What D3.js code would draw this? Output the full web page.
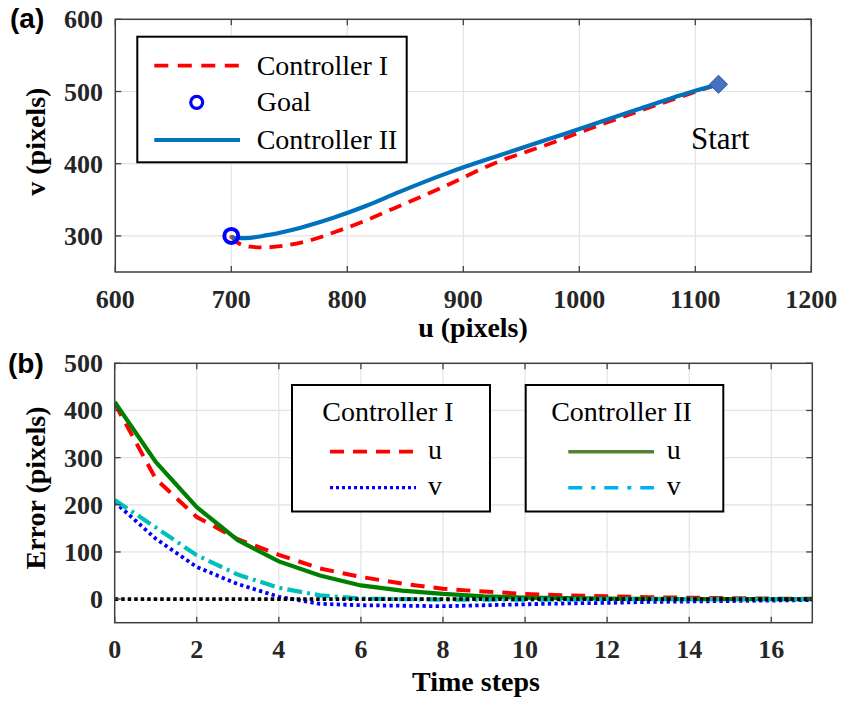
<!DOCTYPE html>
<html>
<head>
<meta charset="utf-8">
<script src="https://cdn.jsdelivr.net/npm/d3@7"></script>
<style>
  html, body { margin: 0; padding: 0; background: #fff; }
  svg { display: block; }
  .tick-label { font-family: "Liberation Serif", "Times New Roman", serif; font-weight: bold; font-size: 26px; fill: #262626; }
  .axis-title { font-family: "Liberation Serif", "Times New Roman", serif; font-weight: bold; font-size: 28px; fill: #000; }
  .legend-text { font-family: "Liberation Serif", "Times New Roman", serif; font-size: 28px; fill: #000; }
  .panel-tag { font-family: "Liberation Sans", Arial, sans-serif; font-weight: bold; font-size: 28px; fill: #000; }
</style>
</head>
<body>
<svg id="chart" width="842" height="702"></svg>
<script>
// ---------- Panel (a): image-plane trajectories (start -> goal) ----------
const trajU_ctrl1 = [1120, 1100, 1050, 1000, 975, 926, 883, 840, 817, 794, 768, 748, 727, 716, 705, 700];
const trajV_ctrl1 = [510, 499.5, 472, 443, 428, 400, 368, 338, 322, 308, 294, 287, 284, 285, 291, 300];
const trajU_ctrl2 = [1120, 1100, 1050, 1000, 975, 932, 888, 845, 817, 788, 759, 731, 712, 703, 700];
const trajV_ctrl2 = [510, 501, 475, 448, 435, 412, 388, 361, 342, 325, 311, 301, 297, 297, 299];
const goalPoint = [700, 300];
const startPoint = [1120, 510];
const uTicks = [600, 700, 800, 900, 1000, 1100, 1200];
const vTicks = [300, 400, 500, 600];

// ---------- Panel (b): error over time ----------
const timeSteps = [0, 1, 2, 3, 4, 5, 6, 7, 8, 9, 10, 11, 12, 13, 14, 15, 16, 17];
const errU_ctrl1 = [415, 255, 174, 127, 94, 65, 47, 33, 22, 16, 11, 8, 6, 4, 3, 2, 1, 1];
const errV_ctrl1 = [206, 128, 68, 32, 5, -10, -13, -14, -15, -13, -11, -9, -8, -6, -5, -4, -3, -2];
const errU_ctrl2 = [418, 291, 195, 125, 80, 50, 29, 18, 11, 6, 3, 2, 1, 0.5, 0, 0, 0, 0];
const errV_ctrl2 = [210, 152, 93, 52, 24, 8, 1, 0, -1, -1, -1, -1, 0, 0, 0, 0, 0, 0];
const tTicks = [0, 2, 4, 6, 8, 10, 12, 14, 16];
const errTicks = [0, 100, 200, 300, 400, 500];

const svg = d3.select("#chart");
const boxColor = "#404040";
const gridColor = "#e3e3e3";
const tickLen = 6;

function drawGrid(g, x, y, xt, yt) {
  const [x0, x1] = x.range();
  const [y0, y1] = y.range(); // y0 bottom, y1 top
  g.append("g").selectAll("line").data(xt.filter(d => x(d) > x0 + 1 && x(d) < x1 - 1)).join("line")
    .attr("x1", d => x(d)).attr("x2", d => x(d)).attr("y1", y0).attr("y2", y1)
    .attr("stroke", gridColor).attr("stroke-width", 1.2);
  g.append("g").selectAll("line").data(yt.filter(d => y(d) < y0 - 1 && y(d) > y1 + 1)).join("line")
    .attr("y1", d => y(d)).attr("y2", d => y(d)).attr("x1", x0).attr("x2", x1)
    .attr("stroke", gridColor).attr("stroke-width", 1.2);
}

function drawBox(g, x, y, xt, yt) {
  const [x0, x1] = x.range();
  const [y0, y1] = y.range();
  g.append("rect").attr("x", x0).attr("y", y1).attr("width", x1 - x0).attr("height", y0 - y1)
    .attr("fill", "none").attr("stroke", boxColor).attr("stroke-width", 1.5);
  const tk = g.append("g").attr("stroke", boxColor).attr("stroke-width", 1.3);
  xt.forEach(d => {
    tk.append("line").attr("x1", x(d)).attr("x2", x(d)).attr("y1", y0).attr("y2", y0 - tickLen);
    tk.append("line").attr("x1", x(d)).attr("x2", x(d)).attr("y1", y1).attr("y2", y1 + tickLen);
  });
  yt.forEach(d => {
    tk.append("line").attr("y1", y(d)).attr("y2", y(d)).attr("x1", x0).attr("x2", x0 + tickLen);
    tk.append("line").attr("y1", y(d)).attr("y2", y(d)).attr("x1", x1).attr("x2", x1 - tickLen);
  });
}

function tickLabels(g, x, y, xt, yt, xBase, yRight) {
  g.append("g").selectAll("text").data(xt).join("text")
    .attr("class", "tick-label").attr("x", d => x(d)).attr("y", xBase)
    .attr("text-anchor", "middle").text(d => d);
  g.append("g").selectAll("text").data(yt).join("text")
    .attr("class", "tick-label").attr("x", yRight).attr("y", d => y(d) + 9)
    .attr("text-anchor", "end").text(d => d);
}

// ===== Panel (a) =====
{
  const g = svg.append("g");
  const x = d3.scaleLinear().domain([600, 1200]).range([115.3, 811.3]);
  const y = d3.scaleLinear().domain([250, 600]).range([272, 19.3]);
  drawGrid(g, x, y, uTicks, vTicks);

  const line = d3.line().x(d => x(d[0])).y(d => y(d[1])).curve(d3.curveMonotoneX);
  // order by increasing u for the monotone interpolator
  const path1 = trajU_ctrl1.map((u, i) => [u, trajV_ctrl1[i]]).reverse();
  const path2 = trajU_ctrl2.map((u, i) => [u, trajV_ctrl2[i]]).reverse();

  g.append("path").attr("d", line(path1)).attr("fill", "none")
    .attr("stroke", "#ff0000").attr("stroke-width", 3.8).attr("stroke-dasharray", "13,8");
  g.append("path").attr("d", line(path2)).attr("fill", "none")
    .attr("stroke", "#0072bd").attr("stroke-width", 4.2);

  // goal marker
  g.append("circle").attr("cx", x(goalPoint[0])).attr("cy", y(goalPoint[1])).attr("r", 7)
    .attr("fill", "none").attr("stroke", "#0000ff").attr("stroke-width", 4);
  g.append("circle").attr("cx", x(goalPoint[0])).attr("cy", y(goalPoint[1]) + 1).attr("r", 2)
    .attr("fill", "#c04040");

  // start marker
  const sx = x(startPoint[0]), sy = y(startPoint[1]), s = 9;
  g.append("path").attr("d", `M${sx},${sy - s}L${sx + s},${sy}L${sx},${sy + s}L${sx - s},${sy}Z`)
    .attr("fill", "#4472c4").attr("stroke", "#2f528f").attr("stroke-width", 1);
  g.append("text").attr("class", "legend-text").style("font-size", "31px")
    .attr("x", 691).attr("y", 149).text("Start");

  drawBox(g, x, y, uTicks, vTicks);
  tickLabels(g, x, y, uTicks, vTicks, 308, 103);

  g.append("text").attr("class", "axis-title").attr("x", 473).attr("y", 337)
    .attr("text-anchor", "middle").text("u (pixels)");
  g.append("text").attr("class", "axis-title")
    .attr("transform", "translate(45,141.7) rotate(-90)")
    .attr("text-anchor", "middle").text("v (pixels)");
  g.append("text").attr("class", "panel-tag").attr("x", 10).attr("y", 28).text("(a)");

  // legend
  const lg = g.append("g");
  lg.append("rect").attr("x", 137.3).attr("y", 36.7).attr("width", 269.4).attr("height", 125.6)
    .attr("fill", "#fff").attr("stroke", "#000").attr("stroke-width", 2);
  const rows = [
    { label: "Controller I", y: 65.7, kind: "dash" },
    { label: "Goal", y: 102.3, kind: "circle" },
    { label: "Controller II", y: 140, kind: "solid" }
  ];
  rows.forEach(r => {
    if (r.kind === "dash") {
      lg.append("line").attr("x1", 154.3).attr("x2", 240).attr("y1", r.y).attr("y2", r.y)
        .attr("stroke", "#ff0000").attr("stroke-width", 3.8).attr("stroke-dasharray", "14,9.5");
    } else if (r.kind === "solid") {
      lg.append("line").attr("x1", 154.3).attr("x2", 240).attr("y1", r.y).attr("y2", r.y)
        .attr("stroke", "#0072bd").attr("stroke-width", 4.2);
    } else {
      lg.append("circle").attr("cx", 196.7).attr("cy", r.y).attr("r", 6)
        .attr("fill", "none").attr("stroke", "#0000ff").attr("stroke-width", 3.2);
    }
    lg.append("text").attr("class", "legend-text").attr("x", 256.7).attr("y", r.y + 9).text(r.label);
  });
}

// ===== Panel (b) =====
{
  const g = svg.append("g");
  const x = d3.scaleLinear().domain([0, 17]).range([114.7, 812.3]);
  const y = d3.scaleLinear().domain([-50, 500]).range([622.7, 363.3]);
  drawGrid(g, x, y, tTicks, errTicks);

  const line = d3.line().x((d, i) => x(timeSteps[i])).y(d => y(d));
  g.append("clipPath").attr("id", "clipB").append("rect")
    .attr("x", 114.7).attr("y", 363.3).attr("width", 697.6).attr("height", 259.4);
  const plot = g.append("g").attr("clip-path", "url(#clipB)");

  plot.append("path").attr("d", line(errU_ctrl1)).attr("fill", "none")
    .attr("stroke", "#ff0000").attr("stroke-width", 4).attr("stroke-dasharray", "14,9");
  plot.append("path").attr("d", line(errU_ctrl2)).attr("fill", "none")
    .attr("stroke", "#008000").attr("stroke-width", 4.2);
  plot.append("path").attr("d", line(errV_ctrl1)).attr("fill", "none")
    .attr("stroke", "#0000ff").attr("stroke-width", 3.8).attr("stroke-dasharray", "3.3,3.3");
  plot.append("path").attr("d", line(errV_ctrl2)).attr("fill", "none")
    .attr("stroke", "#00bfbf").attr("stroke-width", 4.2).attr("stroke-dasharray", "15,5,3,5");
  // zero reference
  plot.append("line").attr("x1", x(0)).attr("x2", x(17)).attr("y1", y(0)).attr("y2", y(0))
    .attr("stroke", "#000").attr("stroke-width", 3.8).attr("stroke-dasharray", "3.5,3");

  drawBox(g, x, y, tTicks, errTicks);
  tickLabels(g, x, y, tTicks, errTicks, 658, 103);

  g.append("text").attr("class", "axis-title").attr("x", 476).attr("y", 691)
    .attr("text-anchor", "middle").text("Time steps");
  g.append("text").attr("class", "axis-title")
    .attr("transform", "translate(45,488) rotate(-90)")
    .attr("text-anchor", "middle").text("Error (pixels)");
  g.append("text").attr("class", "panel-tag").attr("x", 8).attr("y", 373).text("(b)");

  // two legend boxes
  const boxes = [
    { title: "Controller I", x0: 292, x1: 490, lineX: [330, 416], textX: 428,
      rows: [{ label: "u", color: "#ff0000", dash: "14,9", w: 3.8 },
             { label: "v", color: "#0000ff", dash: "3,3", w: 3.2 }] },
    { title: "Controller II", x0: 525.7, x1: 723.3, lineX: [568.3, 654], textX: 666.7,
      rows: [{ label: "u", color: "#548235", dash: null, w: 3.5 },
             { label: "v", color: "#00b0f0", dash: "14,9,4,9", w: 3.5 }] }
  ];
  const rowY = [451.7, 487.7];
  boxes.forEach(b => {
    const lg = g.append("g");
    lg.append("rect").attr("x", b.x0).attr("y", 385).attr("width", b.x1 - b.x0).attr("height", 126.5)
      .attr("fill", "#fff").attr("stroke", "#000").attr("stroke-width", 2);
    lg.append("text").attr("class", "legend-text").attr("x", (b.x0 + b.x1) / 2 - 3).attr("y", 420.5)
      .attr("text-anchor", "middle").text(b.title);
    b.rows.forEach((r, i) => {
      const ln = lg.append("line").attr("x1", b.lineX[0]).attr("x2", b.lineX[1])
        .attr("y1", rowY[i]).attr("y2", rowY[i]).attr("stroke", r.color).attr("stroke-width", r.w);
      if (r.dash) ln.attr("stroke-dasharray", r.dash);
      lg.append("text").attr("class", "legend-text").attr("x", b.textX).attr("y", rowY[i] + 7)
        .text(r.label);
    });
  });
}
</script>
</body>
</html>
